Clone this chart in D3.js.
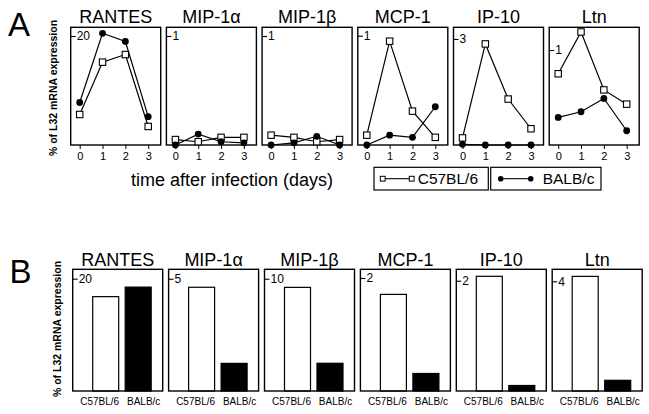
<!DOCTYPE html>
<html>
<head>
<meta charset="utf-8">
<script src="https://cdn.jsdelivr.net/npm/d3@7"></script>
<style>
  html, body { margin: 0; padding: 0; background: #fff; }
  svg { display: block; font-family: "Liberation Sans", Arial, Helvetica, sans-serif; }
</style>
</head>
<body>
<svg id="chart" width="649" height="414"></svg>
<script>
// ---------- DATA ----------
const chemokines = ["RANTES", "MIP-1α", "MIP-1β", "MCP-1", "IP-10", "Ltn"];
const days = [0, 1, 2, 3];
const strains = ["C57BL/6", "BALB/c"];

// Panel A: time course (% of L32 mRNA expression)
const c57Time = [
  [5.6, 15.2, 16.6, 3.4],
  [0.05, 0.03, 0.07, 0.07],
  [0.09, 0.07, 0.03, 0.05],
  [0.09, 0.95, 0.31, 0.07],
  [0.2, 2.86, 1.3, 0.46],
  [0.75, 1.19, 0.58, 0.43]
];
const balbTime = [
  [7.8, 20.5, 19.0, 5.2],
  [0, 0.1, 0.03, 0.02],
  [0, 0.02, 0.08, 0],
  [0, 0.09, 0.07, 0.35],
  [0.02, 0, 0, 0],
  [0.29, 0.35, 0.49, 0.15]
];
const timeTicks = [20, 1, 1, 1, 3, 1];
const timeMax = [21.6, 1.08, 1.08, 1.077, 3.33, 1.239];

// Panel B: bar values
const c57Bars = [16.8, 4.62, 9.23, 1.71, 2.08, 4.18];
const balbBars = [18.5, 1.23, 2.47, 0.31, 0.1, 0.39];
const barTicks = [20, 5, 10, 2, 2, 4];
const barMax = [21.67, 5.42, 10.84, 2.154, 2.207, 4.438];

// ---------- LAYOUT ----------
const svg = d3.select("#chart");
const W = 90;
const topA = 27.3, hA = 117.7;
const leftA = 70.7, stepA = 95.7;
const topB = 269.3, hB = 121.7;
const leftB = 72.7, stepB = 95.9;
const intFmt = d3.format("d");

// Panel letters
svg.append("text").attr("x", 8).attr("y", 36).attr("font-size", 33).text("A");
svg.append("text").attr("x", 9.5).attr("y", 283).attr("font-size", 33).text("B");

// Y axis titles
function yTitle(cx, cy) {
  svg.append("text")
    .attr("transform", `translate(${cx},${cy}) rotate(-90)`)
    .attr("text-anchor", "middle")
    .attr("font-size", 10.5).attr("font-weight", "bold")
    .text("% of L32 mRNA expression");
}
yTitle(57, 88);
yTitle(60.5, 329);

// ---------- PANEL A ----------
const x = d3.scaleLinear().domain([0, 3]).range([9, 77.5]);

chemokines.forEach((name, i) => {
  const g = svg.append("g").attr("transform", `translate(${leftA + i * stepA},${topA})`);
  const y = d3.scaleLinear().domain([0, timeMax[i]]).range([hA, 0]);

  svg.append("text")
    .attr("x", leftA + i * stepA + W / 2).attr("y", 22.7)
    .attr("text-anchor", "middle").attr("font-size", 18).text(name);

  g.append("rect").attr("width", W).attr("height", hA)
    .attr("fill", "none").attr("stroke", "#000").attr("stroke-width", 1.4);

  // inner y tick
  const yAxis = d3.axisRight(y).tickValues([timeTicks[i]]).tickSize(5).tickPadding(1).tickFormat(intFmt);
  const ya = g.append("g").call(yAxis);
  ya.select(".domain").remove();
  ya.selectAll("line").attr("stroke", "#000").attr("stroke-width", 1.1);
  ya.selectAll("text").attr("font-size", 12).attr("fill", "#000").attr("font-family", "inherit");

  // x axis
  const xAxis = d3.axisBottom(x).tickValues(days).tickSize(4).tickPadding(3).tickFormat(intFmt);
  const xa = g.append("g").attr("transform", `translate(0,${hA})`).call(xAxis);
  xa.select(".domain").remove();
  xa.selectAll("line").attr("stroke", "#000").attr("stroke-width", 1);
  xa.selectAll("text").attr("font-size", 11).attr("fill", "#000").attr("font-family", "inherit");

  const line = d3.line().x((d, j) => x(days[j])).y(d => y(d));

  // C57BL/6: open squares
  g.append("path").attr("d", line(c57Time[i]))
    .attr("fill", "none").attr("stroke", "#000").attr("stroke-width", 1.2);
  // BALB/c: filled circles
  g.append("path").attr("d", line(balbTime[i]))
    .attr("fill", "none").attr("stroke", "#000").attr("stroke-width", 1.2);

  g.selectAll("rect.sq").data(c57Time[i]).enter().append("rect")
    .attr("class", "sq")
    .attr("x", (d, j) => x(days[j]) - 3.2).attr("y", d => y(d) - 3.2)
    .attr("width", 6.4).attr("height", 6.4)
    .attr("fill", "#fff").attr("stroke", "#000").attr("stroke-width", 1.1);

  g.selectAll("circle.ci").data(balbTime[i]).enter().append("circle")
    .attr("class", "ci")
    .attr("cx", (d, j) => x(days[j])).attr("cy", d => y(d))
    .attr("r", 3.4).attr("fill", "#000");
});

// x axis title
svg.append("text").attr("x", 131).attr("y", 185.5).attr("font-size", 18)
  .text("time after infection (days)");

// Legend
const legendItems = [
  { label: strains[0], x0: 374, x1: 488.3, open: true },
  { label: strains[1], x0: 490.7, x1: 601, open: false }
];
legendItems.forEach(it => {
  const lg = svg.append("g");
  lg.append("rect").attr("x", it.x0).attr("y", 167.3)
    .attr("width", it.x1 - it.x0).attr("height", 22.7)
    .attr("fill", "none").attr("stroke", "#000").attr("stroke-width", 1.2);
  const m0 = it.x0 + (it.open ? 8.7 : 10), m1 = m0 + (it.open ? 29 : 30), my = 178.7;
  lg.append("line").attr("x1", m0).attr("x2", m1).attr("y1", my).attr("y2", my)
    .attr("stroke", "#000").attr("stroke-width", 1.1);
  [m0, m1].forEach(mx => {
    if (it.open) {
      lg.append("rect").attr("x", mx - 2.4).attr("y", my - 2.4).attr("width", 4.8).attr("height", 4.8)
        .attr("fill", "#fff").attr("stroke", "#000").attr("stroke-width", 1);
    } else {
      lg.append("circle").attr("cx", mx).attr("cy", my).attr("r", 2.8).attr("fill", "#000");
    }
  });
  lg.append("text").attr("x", m1 + (it.open ? 6 : 12)).attr("y", 184)
    .attr("font-size", 15.5).text(it.label);
});

// ---------- PANEL B ----------
const xb = d3.scaleBand().domain(strains).range([20, 78.5]).paddingInner(0.2).paddingOuter(0);
const xl = d3.scalePoint().domain(strains).range([27, 71]);

chemokines.forEach((name, i) => {
  const left = leftB + i * stepB;
  const g = svg.append("g").attr("transform", `translate(${left},${topB})`);
  const y = d3.scaleLinear().domain([0, barMax[i]]).range([hB, 0]);

  svg.append("text")
    .attr("x", left + W / 2).attr("y", 266)
    .attr("text-anchor", "middle").attr("font-size", 18).text(name);

  const vals = [c57Bars[i], balbBars[i]];
  g.selectAll("rect.bar").data(vals).enter().append("rect")
    .attr("class", "bar")
    .attr("x", (d, j) => xb(strains[j])).attr("y", d => y(d))
    .attr("width", xb.bandwidth()).attr("height", d => hB - y(d))
    .attr("fill", (d, j) => j === 0 ? "#fff" : "#000")
    .attr("stroke", "#000").attr("stroke-width", 1.2);

  g.append("rect").attr("width", W).attr("height", hB)
    .attr("fill", "none").attr("stroke", "#000").attr("stroke-width", 1.4);

  const yAxis = d3.axisRight(y).tickValues([barTicks[i]]).tickSize(5).tickPadding(1).tickFormat(intFmt);
  const ya = g.append("g").call(yAxis);
  ya.select(".domain").remove();
  ya.selectAll("line").attr("stroke", "#000").attr("stroke-width", 1.1);
  ya.selectAll("text").attr("font-size", 12).attr("fill", "#000").attr("font-family", "inherit");

  g.selectAll("text.cat").data(strains).enter().append("text")
    .attr("class", "cat")
    .attr("x", d => xl(d)).attr("y", hB + 14)
    .attr("text-anchor", "middle").attr("font-size", 10)
    .text(d => d);
});
</script>
</body>
</html>
